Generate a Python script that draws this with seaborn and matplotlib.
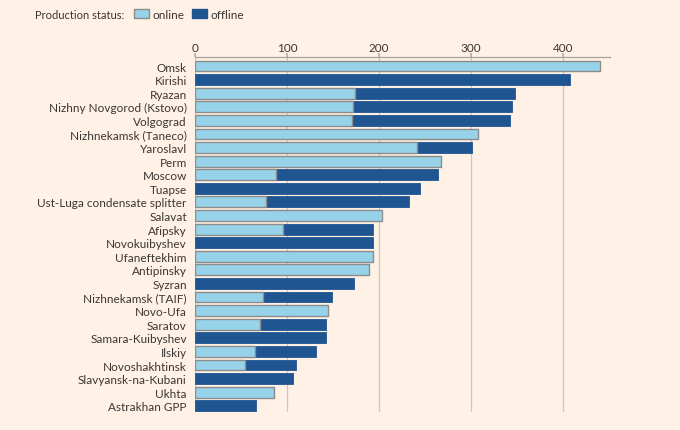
import pandas as pd
import matplotlib.pyplot as plt
import seaborn as sns
from matplotlib.patches import Patch

# refinery capacity by production status
refineries = ['Omsk', 'Kirishi', 'Ryazan', 'Nizhny Novgorod (Kstovo)', 'Volgograd',
              'Nizhnekamsk (Taneco)', 'Yaroslavl', 'Perm', 'Moscow', 'Tuapse',
              'Ust-Luga condensate splitter', 'Salavat', 'Afipsky', 'Novokuibyshev',
              'Ufaneftekhim', 'Antipinsky', 'Syzran', 'Nizhnekamsk (TAIF)', 'Novo-Ufa',
              'Saratov', 'Samara-Kuibyshev', 'Ilskiy', 'Novoshakhtinsk',
              'Slavyansk-na-Kubani', 'Ukhta', 'Astrakhan GPP']
online = [440, 0, 174, 172, 171, 307, 241, 267, 88, 0, 77, 203, 96, 0, 193, 189,
          0, 74, 144, 71, 0, 65, 54, 0, 86, 0]
offline = [0, 408, 174, 173, 171, 0, 60, 0, 176, 244, 156, 0, 97, 193, 0, 0, 173,
           75, 0, 71, 142, 66, 56, 106, 0, 66]

df = pd.DataFrame({'refinery': refineries, 'online': online, 'offline': offline})
df['total'] = df['online'] + df['offline']

bg = '#FFF1E5'
light = '#96D2E8'
dark = '#1F5591'
txt = '#3A3633'

sns.set_theme(style='white')
plt.rcParams['font.family'] = ['Lato', 'DejaVu Sans']

fig = plt.figure(figsize=(6.8, 4.31), dpi=100, facecolor=bg)
ax = fig.add_axes([0.287, 0.042, 0.61, 0.823])
ax.set_facecolor(bg)

sns.barplot(data=df, y='refinery', x='total', color=dark, width=0.8, saturation=1,
            edgecolor=dark, linewidth=0.6, ax=ax, zorder=2)
sns.barplot(data=df[df['online'] > 0], y='refinery', x='online', color=light,
            width=0.8, saturation=1, edgecolor='#8C8C8C', linewidth=1.0, ax=ax,
            zorder=3, order=refineries)

ax.set_xlim(0, 451)
ax.set_ylim(25.45, -0.65)
ax.set_xticks([0, 100, 200, 300, 400])
ax.xaxis.tick_top()
ax.tick_params(axis='x', length=3, color='#B8B0A8', colors=txt, labelsize=8.5, pad=0)
ax.tick_params(axis='y', length=0, colors=txt, labelsize=8.5, pad=6)
ax.grid(axis='x', color='#CEC6BE', linewidth=0.9, zorder=0)
ax.set_axisbelow(True)
ax.set_xlabel('')
ax.set_ylabel('')
for s in ['left', 'right', 'bottom']:
    ax.spines[s].set_visible(False)
ax.spines['top'].set_color('#A8A09A')
ax.spines['top'].set_linewidth(0.9)

fig.text(0.052, 0.963, 'Production status:', fontsize=8, color=txt, va='center')
handles = [Patch(facecolor=light, edgecolor='#8C8C8C', label='online'),
           Patch(facecolor=dark, edgecolor=dark, label='offline')]
fig.legend(handles=handles, loc='center left', bbox_to_anchor=(0.188, 0.965), ncol=2,
           frameon=False, fontsize=8.5, handlelength=1.3, handleheight=0.7,
           handletextpad=0.3, columnspacing=0.6, borderpad=0, labelcolor=txt)

fig.savefig('out.png', dpi=100, facecolor=bg)
